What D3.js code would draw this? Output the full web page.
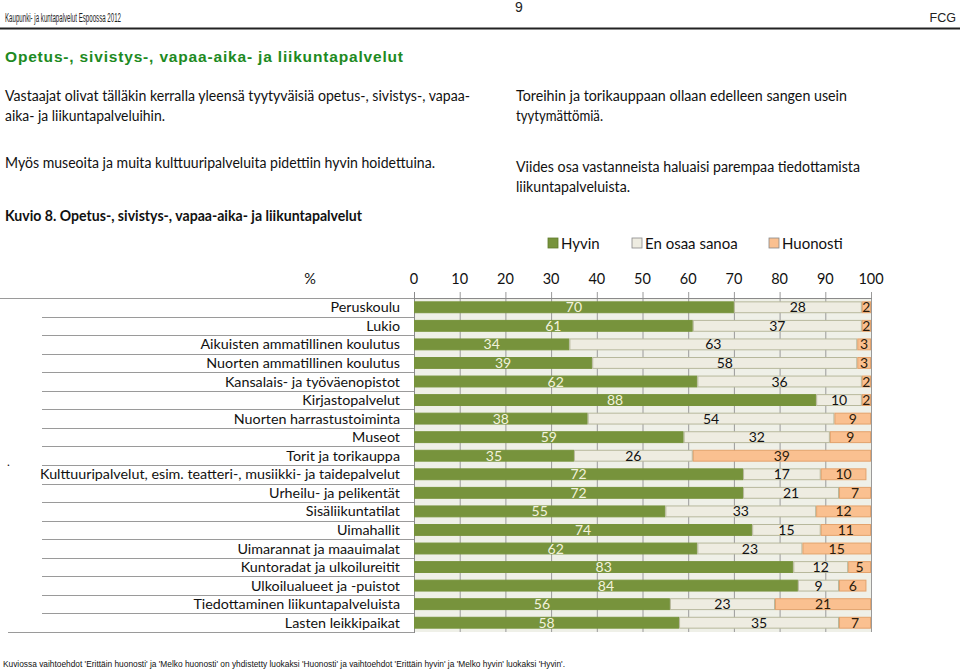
<!DOCTYPE html>
<html><head><meta charset="utf-8">
<script src="https://cdn.jsdelivr.net/npm/d3@7"></script>
<style>html,body{margin:0;padding:0;background:#fff;}svg{display:block;}</style>
</head><body>
<svg id="c" width="960" height="672"></svg>
<script>
const categories = ["Peruskoulu","Lukio","Aikuisten ammatillinen koulutus","Nuorten ammatillinen koulutus","Kansalais- ja työväenopistot","Kirjastopalvelut","Nuorten harrastustoiminta","Museot","Torit ja torikauppa","Kulttuuripalvelut, esim. teatteri-, musiikki- ja taidepalvelut","Urheilu- ja pelikentät","Sisäliikuntatilat","Uimahallit","Uimarannat ja maauimalat","Kuntoradat ja ulkoilureitit","Ulkoilualueet ja -puistot","Tiedottaminen liikuntapalveluista","Lasten leikkipaikat"];
const hyvin = [70,61,34,39,62,88,38,59,35,72,72,55,74,62,83,84,56,58];
const enOsaa = [28,37,63,58,36,10,54,32,26,17,21,33,15,23,12,9,23,35];
const huonosti = [2,2,3,3,2,2,9,9,39,10,7,12,11,15,5,6,21,7];
const seriesNames = ["Hyvin","En osaa sanoa","Huonosti"];
const tickValues = [0,10,20,30,40,50,60,70,80,90,100];

const colors = ["#77933c","#eeece1","#fac090"];
const strokes = ["#77933c","#b7b89c","#e3a26c"];
const labelColors = ["#f2f2dc","#111","#2b1b0b"];

const svg = d3.select("#c");
const FONT = "Lato, 'Open Sans', sans-serif";

// header
svg.append("text").attr("x",5).attr("y",22).attr("font-family","'Liberation Sans Narrow', 'Liberation Sans', sans-serif").attr("font-size",12.5)
  .attr("textLength",116).attr("lengthAdjust","spacingAndGlyphs").attr("fill","#222").text("Kaupunki- ja kuntapalvelut Espoossa 2012");
svg.append("text").attr("x",519).attr("y",12).attr("font-family","'Liberation Sans Narrow', sans-serif").attr("font-size",14).attr("text-anchor","middle").attr("fill","#222").text("9");
svg.append("text").attr("x",956).attr("y",22).attr("font-family","'Liberation Sans Narrow', sans-serif").attr("font-size",12.5).attr("text-anchor","end").attr("fill","#222").text("FCG");
svg.append("line").attr("x1",0).attr("x2",960).attr("y1",28.5).attr("y2",28.5).attr("stroke","#222").attr("stroke-width",2);

// title
svg.append("text").attr("x",5).attr("y",62).attr("font-family","'Liberation Sans', Arial, sans-serif").attr("font-weight","bold").attr("font-size",15.5)
  .attr("textLength",398).attr("lengthAdjust","spacing").attr("fill","#1d8a22").text("Opetus-, sivistys-, vapaa-aika- ja liikuntapalvelut");

function para(x,y,txt,w,bold){
  const t = svg.append("text").attr("x",x).attr("y",y).attr("font-family",FONT).attr("font-size",14.5).attr("fill","#111").text(txt);
  if(bold) t.attr("font-weight","bold");
  if(w) t.attr("textLength",w).attr("lengthAdjust","spacingAndGlyphs");
}
para(5,101,"Vastaajat olivat tälläkin kerralla yleensä tyytyväisiä opetus-, sivistys-, vapaa-",465);
para(5,121,"aika- ja liikuntapalveluihin.",160);
para(516,101,"Toreihin ja torikauppaan ollaan edelleen sangen usein",331);
para(516,121,"tyytymättömiä.",87);
para(5,168,"Myös museoita ja muita kulttuuripalveluita pidettiin hyvin hoidettuina.",430);
para(516,172,"Viides osa vastanneista haluaisi parempaa tiedottamista",344);
para(516,192,"liikuntapalveluista.",114);
para(5,221,"Kuvio 8. Opetus-, sivistys-, vapaa-aika- ja liikuntapalvelut",357,true);

// scales
const x = d3.scaleLinear().domain([0,100]).range([414,871]);
const y = d3.scaleBand().domain(categories).range([298,632]).paddingInner(0.36).paddingOuter(0.18);

// legend
const legX = [548,632,769];
seriesNames.forEach((n,i)=>{
  svg.append("rect").attr("x",legX[i]).attr("y",238).attr("width",10).attr("height",10).attr("fill",colors[i]).attr("stroke",i===0?"#5f7a2c":"#888").attr("stroke-width",0.8);
  svg.append("text").attr("x",legX[i]+13).attr("y",248.5).attr("font-family",FONT).attr("font-size",15).attr("fill","#111").text(n);
});

// % label
svg.append("text").attr("x",310).attr("y",284).attr("font-family",FONT).attr("font-size",14.5).attr("text-anchor","middle").attr("fill","#111").text("%");

// plot background
svg.append("rect").attr("x",x(0)).attr("y",298).attr("width",x(100)-x(0)).attr("height",334).attr("fill","#eff0e8");

// gridlines & ticks
const g = svg.append("g");
tickValues.forEach(v=>{
  g.append("line").attr("x1",x(v)+0.5).attr("x2",x(v)+0.5).attr("y1",292).attr("y2",632).attr("stroke","#9a9a9a").attr("stroke-width",1);
  g.append("text").attr("x",x(v)).attr("y",284).attr("text-anchor","middle").attr("font-family",FONT).attr("font-size",14.5).attr("fill","#111").text(v);
});
g.append("line").attr("x1",x(0)).attr("x2",x(100)+1).attr("y1",298.5).attr("y2",298.5).attr("stroke","#8a8a8a");

// row separators in label area
const step = y.step();
for(let i=0;i<=categories.length;i++){
  const yy = Math.round(298 + i*step)+0.5;
  const x1 = i===0?0:(i===categories.length?8:42);
  svg.append("line").attr("x1",x1).attr("x2",x(0)).attr("y1",yy).attr("y2",yy).attr("stroke","#9a9a9a").attr("stroke-width",1);
}
svg.append("line").attr("x1",x(0)+0.5).attr("x2",x(0)+0.5).attr("y1",292).attr("y2",633).attr("stroke","#8a8a8a");

// stacked bars
const rows = categories.map((c,i)=>({cat:c, vals:[hyvin[i],enOsaa[i],huonosti[i]]}));
const barsG = svg.append("g");
rows.forEach(r=>{
  let acc = 0;
  r.vals.forEach((v,k)=>{
    const x0 = x(acc), x1 = Math.min(x(acc+v), x(100));
    acc += v;
    barsG.append("rect").attr("x",x0+0.5).attr("y",y(r.cat)+0.5).attr("width",Math.max(0,x1-x0-1)).attr("height",y.bandwidth()-1)
      .attr("fill",colors[k]).attr("stroke",strokes[k]).attr("stroke-width",1);
    barsG.append("text").attr("x",(x0+x1)/2).attr("y",y(r.cat)+y.bandwidth()/2+5)
      .attr("text-anchor","middle").attr("font-family",FONT).attr("font-size",14).attr("fill",labelColors[k]).text(v);
  });
});

// category labels
categories.forEach(c=>{
  svg.append("text").attr("x",400).attr("y",y(c)+y.bandwidth()/2+5).attr("text-anchor","end")
    .attr("font-family",FONT).attr("font-size",14.3).attr("fill","#111").text(c);
});
// stray dot
svg.append("text").attr("x",7).attr("y",466).attr("font-family",FONT).attr("font-size",12).attr("fill","#111").text(".");

// footnote
svg.append("text").attr("x",3).attr("y",667).attr("font-family","'Liberation Sans Narrow', 'Liberation Sans', sans-serif").attr("font-size",9.5)
  .attr("textLength",562).attr("lengthAdjust","spacingAndGlyphs").attr("fill","#111")
  .text("Kuviossa vaihtoehdot 'Erittäin huonosti' ja 'Melko huonosti' on yhdistetty luokaksi 'Huonosti' ja vaihtoehdot 'Erittäin hyvin' ja 'Melko hyvin' luokaksi 'Hyvin'.");
</script>
</body></html>
